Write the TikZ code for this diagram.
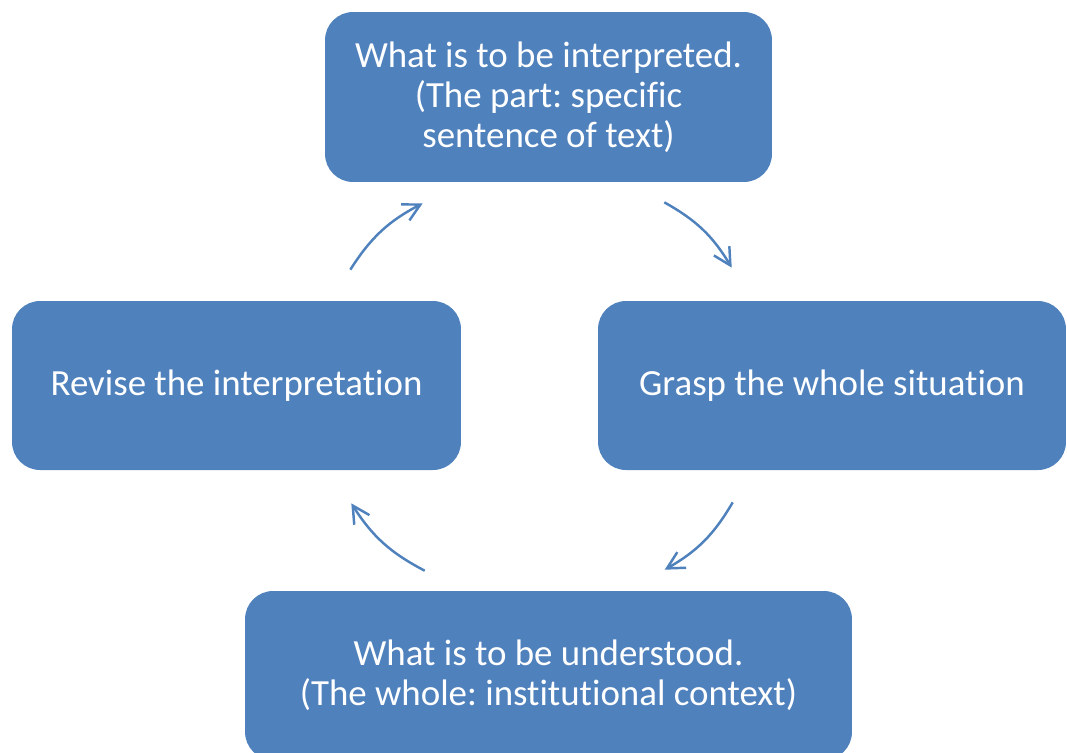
\documentclass[tikz,border=0pt]{standalone}
\usepackage{fontspec}
\setmainfont{Carlito}[Ligatures=NoCommon]
\usepackage{tikz}
\usetikzlibrary{positioning, calc, arrows.meta}

\definecolor{boxblue}{HTML}{4F81BD}
\tikzset{
	stagebox/.style = {rectangle, rounded corners=0.56cm, fill=boxblue, text=white, align=center, inner sep=0pt, font=\fontsize{21}{22.8}\selectfont},
	cyc/.style = {draw=boxblue, line width=1.4pt, -{Straight Barb[length=3.4mm, width=3.6mm, line width=1.4pt]}}
}

\begin{document}
\frenchspacing
\begin{tikzpicture}[x=0.02cm, y=-0.02cm]
	\useasboundingbox (0,0) rectangle (1067,752);
	% the four stages
	\node[stagebox, minimum width=8.94cm, minimum height=3.4cm] (part) at (548.5,97) {What is to be interpreted.\\(The part: specific\\sentence of text)};
	\node[stagebox, minimum width=9.36cm, minimum height=3.38cm] (grasp) at (832,385.5) {Grasp the whole situation};
	\node[stagebox, minimum width=12.14cm, minimum height=3.38cm] (whole) at (548.5,675.5) {What is to be understood.\\(The whole: institutional context)};
	\node[stagebox, minimum width=8.98cm, minimum height=3.38cm] (revise) at (236.5,385.5) {Revise the interpretation};
	% the circle
	\draw[cyc] ($(revise.north east)+(-111,-31)$) to[bend left=15] ($(part.south west)+(98,21)$);
	\draw[cyc] ($(part.south east)+(-108,20)$) to[bend left=15] ($(grasp.north west)+(134,-33)$);
	\draw[cyc] ($(grasp.south west)+(135,32)$) to[bend left=15] ($(whole.north west)+(420,-21)$);
	\draw[cyc] ($(whole.north west)+(180,-20)$) to[bend left=15] ($(revise.south east)+(-110,33)$);
\end{tikzpicture}
\end{document}
